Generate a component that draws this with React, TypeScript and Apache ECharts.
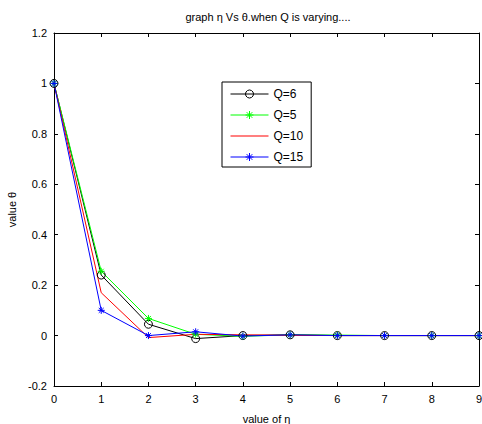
import React, { useEffect, useRef } from "react";
import * as echarts from "echarts";

const etaValues = [0, 1, 2, 3, 4, 5, 6, 7, 8, 9];
const q6 = [1, 0.24, 0.045, -0.012, 0, 0.003, 0, 0, 0, 0];
const q5 = [1, 0.255, 0.068, 0.005, -0.003, 0.003, 0.002, 0, 0, 0];
const q10 = [1, 0.17, -0.008, 0.005, 0.003, 0.001, 0, 0, 0, 0];
const q15 = [1, 0.1, 0, 0.015, -0.002, 0.003, 0, 0, 0, 0];
const seriesNames = ["Q=6", "Q=5", "Q=10", "Q=15"];

const FONT = "Liberation Sans, Arial, sans-serif";
const STAR = "path://M0,-5L0,5M-5,0L5,0M-3.5,-3.5L3.5,3.5M-3.5,3.5L3.5,-3.5";
const LINE_ICON = "path://M0,0L38,0L38,1L0,1Z";

export default function App() {
  const ref = useRef<HTMLDivElement>(null);
  useEffect(() => {
    if (!ref.current) return;
    const chart = echarts.init(ref.current, null, { renderer: "svg" });
    const pts = (arr: number[]) => etaValues.map((x, i) => [x, arr[i]]);
    const axisLine = { show: true, onZero: false, lineStyle: { color: "#000", width: 1 } };
    const tick = { show: true, inside: true, length: 4, lineStyle: { color: "#000" } };
    chart.setOption({
      animation: false,
      backgroundColor: "#fff",
      textStyle: { fontFamily: FONT },
      graphic: [
        {
          type: "text",
          x: 268,
          y: 11,
          style: {
            text: "graph η Vs θ.when Q is varying....",
            font: "11px " + FONT,
            fill: "#000",
            align: "center",
          },
        },
      ],
      grid: { left: 54, right: 3, top: 33, bottom: 38, outerBoundsMode: "none", containLabel: false },
      legend: {
        data: seriesNames.map((n) =>
          n === "Q=10" ? { name: n, icon: LINE_ICON } : { name: n }
        ),
        orient: "vertical",
        left: 222,
        top: 82,
        itemWidth: 38,
        itemHeight: 10,
        itemGap: 9,
        padding: [6, 8, 4, 8],
        backgroundColor: "#fff",
        borderColor: "#000",
        borderWidth: 1,
        lineStyle: { width: 1 },
        itemStyle: { borderWidth: 1 },
        textStyle: { fontSize: 12, color: "#000", fontFamily: FONT },
      },
      xAxis: [
        {
          type: "value",
          min: 0,
          max: 9,
          interval: 1,
          name: "value of η",
          nameLocation: "middle",
          nameGap: 27,
          nameTextStyle: { fontSize: 11, color: "#000" },
          axisLine,
          axisTick: tick,
          axisLabel: { fontSize: 11, color: "#000", margin: 7 },
          splitLine: { show: false },
        },
        {
          type: "value",
          position: "top",
          min: 0,
          max: 9,
          interval: 1,
          axisLine,
          axisTick: tick,
          axisLabel: { show: false },
          splitLine: { show: false },
        },
      ],
      yAxis: [
        {
          type: "value",
          min: -0.2,
          max: 1.2,
          interval: 0.2,
          name: "value θ",
          nameLocation: "middle",
          nameGap: 36,
          nameTextStyle: { fontSize: 11, color: "#000" },
          axisLine,
          axisTick: tick,
          axisLabel: {
            fontSize: 11,
            color: "#000",
            margin: 7,
            formatter: (v: number) => String(Math.round(v * 10) / 10),
          },
          splitLine: { show: false },
        },
        {
          type: "value",
          position: "right",
          min: -0.2,
          max: 1.2,
          interval: 0.2,
          axisLine,
          axisTick: tick,
          axisLabel: { show: false },
          splitLine: { show: false },
        },
      ],
      series: [
        {
          name: "Q=6",
          type: "line",
          data: pts(q6),
          symbol: "circle",
          symbolSize: 8,
          lineStyle: { color: "#000", width: 1 },
          itemStyle: { color: "rgba(255,255,255,0)", borderColor: "#000", borderWidth: 1 },
        },
        {
          name: "Q=5",
          type: "line",
          data: pts(q5),
          symbol: STAR,
          symbolSize: 7,
          lineStyle: { color: "#00ff00", width: 1 },
          itemStyle: { color: "#00ff00", borderColor: "#00ff00", borderWidth: 1 },
        },
        {
          name: "Q=10",
          type: "line",
          data: pts(q10),
          symbol: "none",
          lineStyle: { color: "#ff0000", width: 1 },
          itemStyle: { color: "#ff0000" },
        },
        {
          name: "Q=15",
          type: "line",
          data: pts(q15),
          symbol: STAR,
          symbolSize: 7,
          lineStyle: { color: "#0000ff", width: 1 },
          itemStyle: { color: "#0000ff", borderColor: "#0000ff", borderWidth: 1 },
        },
      ],
    });
    return () => chart.dispose();
  }, []);
  return (
    <div
      ref={ref}
      style={{ position: "fixed", left: 0, top: 0, width: 482, height: 424 }}
    />
  );
}
